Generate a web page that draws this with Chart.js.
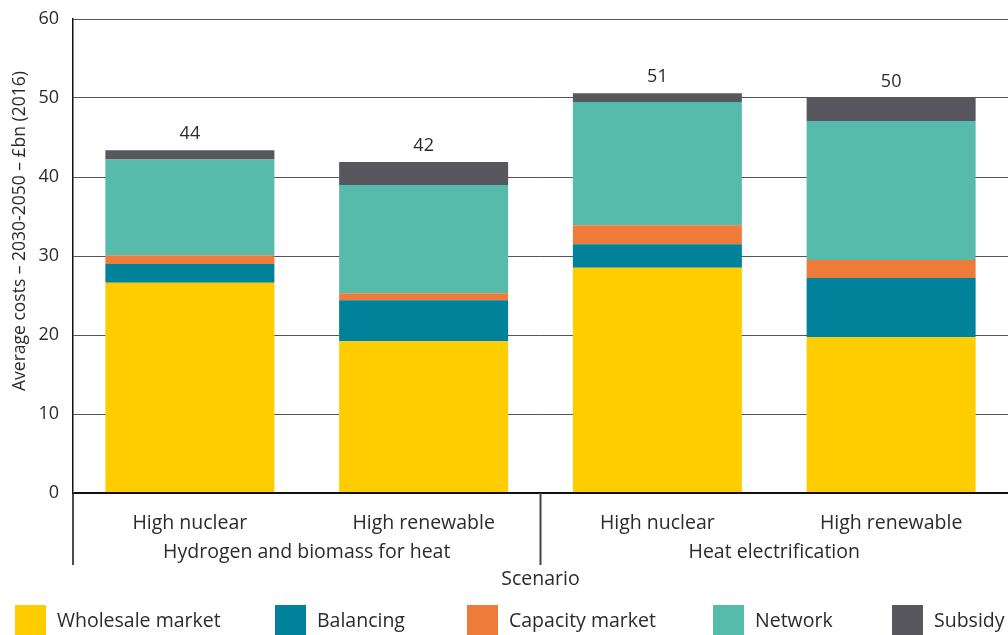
<!DOCTYPE html>
<html>
<head>
<meta charset="utf-8">
<style>
  html, body { margin: 0; padding: 0; background: #fff; overflow: hidden; }
  #wrap { position: relative; width: 1008px; height: 635px; }
</style>
<script src="https://cdn.jsdelivr.net/npm/chart.js@4"></script>
</head>
<body>
<div id="wrap"><canvas id="costChart" width="1008" height="635"></canvas></div>
<script>
// Data
const scenarios = ['High nuclear', 'High renewable', 'High nuclear', 'High renewable'];
const groups = ['Hydrogen and biomass for heat', 'Heat electrification'];
const totals = [44, 42, 51, 50];

const wholesale = [26.6, 19.2, 28.5, 19.7];
const balancing = [2.4, 5.2, 3.0, 7.5];
const capacity  = [1.1, 0.9, 2.4, 2.3];
const network   = [12.1, 13.7, 15.6, 17.6];
const subsidy   = [1.2, 2.9, 1.1, 2.9];

const seriesNames = ['Wholesale market', 'Balancing', 'Capacity market', 'Network', 'Subsidy'];
const seriesColors = ['#FFCC00', '#00829B', '#EE7B3A', '#57BBAC', '#58575D'];
const yTicks = [0, 10, 20, 30, 40, 50, 60];
const yTitle = 'Average costs – 2030-2050 – £bn (2016)';

const FONT = '"Open Sans", "Noto Sans", sans-serif';
const TEXT = '#2b2b2b';

// totals above each stack
const totalLabels = {
    id: 'totalLabels',
    afterDatasetsDraw(chart) {
        const ctx = chart.ctx;
        const x = chart.scales.x, y = chart.scales.y;
        ctx.save();
        ctx.font = '18px ' + FONT;
        ctx.fillStyle = TEXT;
        ctx.textAlign = 'center';
        ctx.textBaseline = 'bottom';
        totals.forEach((t, i) => {
            let top = 0;
            chart.data.datasets.forEach(ds => top += ds.data[i]);
            ctx.fillText(String(t), x.getPixelForValue(i), y.getPixelForValue(top) - 7);
        });
        ctx.restore();
    }
};

// two level category axis, separators, y title and legend
const groupAxis = {
    id: 'groupAxis',
    afterDraw(chart) {
        const ctx = chart.ctx;
        const x = chart.scales.x;
        const area = chart.chartArea;
        const bottom = area.bottom;
        ctx.save();
        ctx.strokeStyle = '#444';
        ctx.lineWidth = 2;
        const mid = (x.getPixelForValue(1) + x.getPixelForValue(2)) / 2;
        ctx.beginPath();
        ctx.moveTo(mid, bottom);
        ctx.lineTo(mid, bottom + 72);
        ctx.stroke();
        ctx.strokeStyle = '#111';
        ctx.lineWidth = 1.5;
        ctx.beginPath();
        ctx.moveTo(area.left, bottom);
        ctx.lineTo(area.left, bottom + 72);
        ctx.stroke();

        ctx.font = '19.5px ' + FONT;
        ctx.fillStyle = TEXT;
        ctx.textAlign = 'center';
        ctx.textBaseline = 'middle';
        scenarios.forEach((s, i) => ctx.fillText(s, x.getPixelForValue(i), bottom + 30));
        groups.forEach((g, gi) => {
            const cx = (x.getPixelForValue(gi * 2) + x.getPixelForValue(gi * 2 + 1)) / 2;
            ctx.fillText(g, cx, bottom + 59);
        });
        ctx.fillText('Scenario', mid, bottom + 86);

        // legend
        const legendY = 605;
        const boxX = [15, 275, 467, 713, 892];
        seriesNames.forEach((n, i) => {
            ctx.fillStyle = seriesColors[i];
            ctx.fillRect(boxX[i], legendY, 31, 30);
            ctx.fillStyle = TEXT;
            ctx.textAlign = 'left';
            ctx.fillText(n, boxX[i] + 42, legendY + 16);
        });

        // y axis title
        ctx.translate(20, 231);
        ctx.rotate(-Math.PI / 2);
        ctx.textAlign = 'center';
        ctx.font = '17.5px ' + FONT;
        ctx.fillText(yTitle, 0, 0);
        ctx.restore();
    }
};

const ctx = document.getElementById('costChart').getContext('2d');
new Chart(ctx, {
    type: 'bar',
    data: {
        labels: scenarios,
        datasets: [wholesale, balancing, capacity, network, subsidy].map((d, i) => ({
            label: seriesNames[i],
            data: d,
            backgroundColor: seriesColors[i],
            borderWidth: 0,
            categoryPercentage: 1,
            barPercentage: 0.723
        }))
    },
    options: {
        responsive: false,
        animation: false,
        devicePixelRatio: 1,
        layout: { padding: { top: 19, right: -4, bottom: 142, left: 0 } },
        plugins: {
            legend: { display: false },
            tooltip: { enabled: false }
        },
        scales: {
            x: {
                stacked: true,
                display: false
            },
            y: {
                stacked: true,
                min: 0,
                max: 60,
                afterFit: s => {
                    s.width = 73;
                    s.paddingTop = 0;
                    s.paddingBottom = 0;
                },
                afterBuildTicks: s => { s.ticks = yTicks.map(v => ({ value: v })); },
                ticks: {
                    color: TEXT,
                    font: { family: FONT, size: 18 },
                    padding: 14
                },
                grid: {
                    color: ctx => ctx.tick && ctx.tick.value === 0 ? '#111' : '#555',
                    lineWidth: ctx => ctx.tick && ctx.tick.value === 0 ? 2 : 1,
                    drawTicks: false
                },
                border: { color: '#111', width: 1.5 },
                title: { display: false }
            }
        }
    },
    plugins: [totalLabels, groupAxis]
});
</script>
</body>
</html>
